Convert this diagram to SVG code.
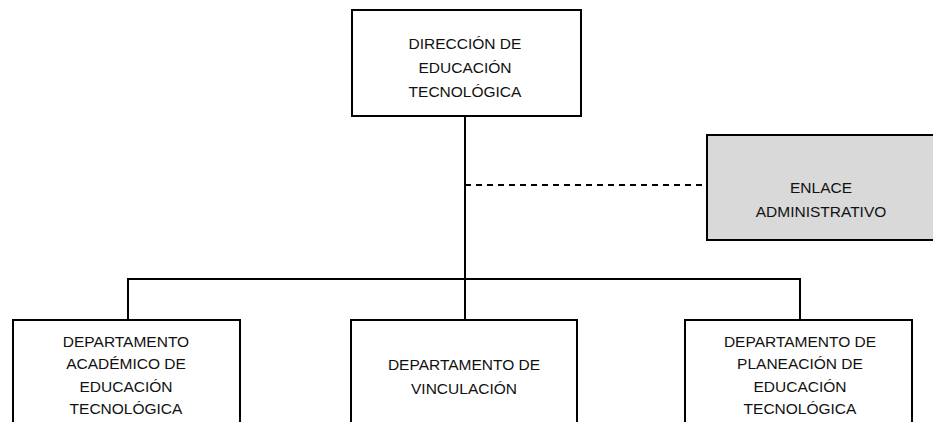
<svg xmlns="http://www.w3.org/2000/svg" width="933" height="422" viewBox="0 0 933 422">
<style>
.box{fill:#fff;stroke:#000;stroke-width:2}
.gray{fill:#d9d9d9}
.t{font-family:"Liberation Sans",Arial,sans-serif;font-size:15.5px;fill:#111;text-anchor:middle}
.c{stroke:#000;stroke-width:2;fill:none}
.d{stroke-dasharray:6 5}
</style>
<rect width="933" height="422" fill="#fff"/>
<g id="connectors">
<line class="c" x1="465" y1="116" x2="465" y2="320"/>
<line class="c d" x1="465" y1="185" x2="707" y2="185"/>
<polyline class="c" points="128,320 128,279 800,279 800,320"/>
</g>
<g id="direccion">
<rect class="box" x="352" y="10" width="229" height="106"/>
<text class="t" x="465" y="49">DIRECCIÓN DE</text>
<text class="t" x="465" y="73">EDUCACIÓN</text>
<text class="t" x="465" y="97">TECNOLÓGICA</text>
</g>
<g id="enlace">
<rect class="box gray" x="707" y="135" width="230" height="105"/>
<text class="t" x="821" y="193">ENLACE</text>
<text class="t" x="821" y="217">ADMINISTRATIVO</text>
</g>
<g id="academico">
<rect class="box" x="13" y="320" width="227" height="112"/>
<text class="t" x="126" y="347">DEPARTAMENTO</text>
<text class="t" x="126" y="369">ACADÉMICO DE</text>
<text class="t" x="126" y="392">EDUCACIÓN</text>
<text class="t" x="126" y="414">TECNOLÓGICA</text>
</g>
<g id="vinculacion">
<rect class="box" x="351" y="320" width="226" height="112"/>
<text class="t" x="464" y="370">DEPARTAMENTO DE</text>
<text class="t" x="464" y="394">VINCULACIÓN</text>
</g>
<g id="planeacion">
<rect class="box" x="685" y="320" width="227" height="112"/>
<text class="t" x="800" y="347">DEPARTAMENTO DE</text>
<text class="t" x="800" y="369">PLANEACIÓN DE</text>
<text class="t" x="800" y="392">EDUCACIÓN</text>
<text class="t" x="800" y="414">TECNOLÓGICA</text>
</g>
</svg>
